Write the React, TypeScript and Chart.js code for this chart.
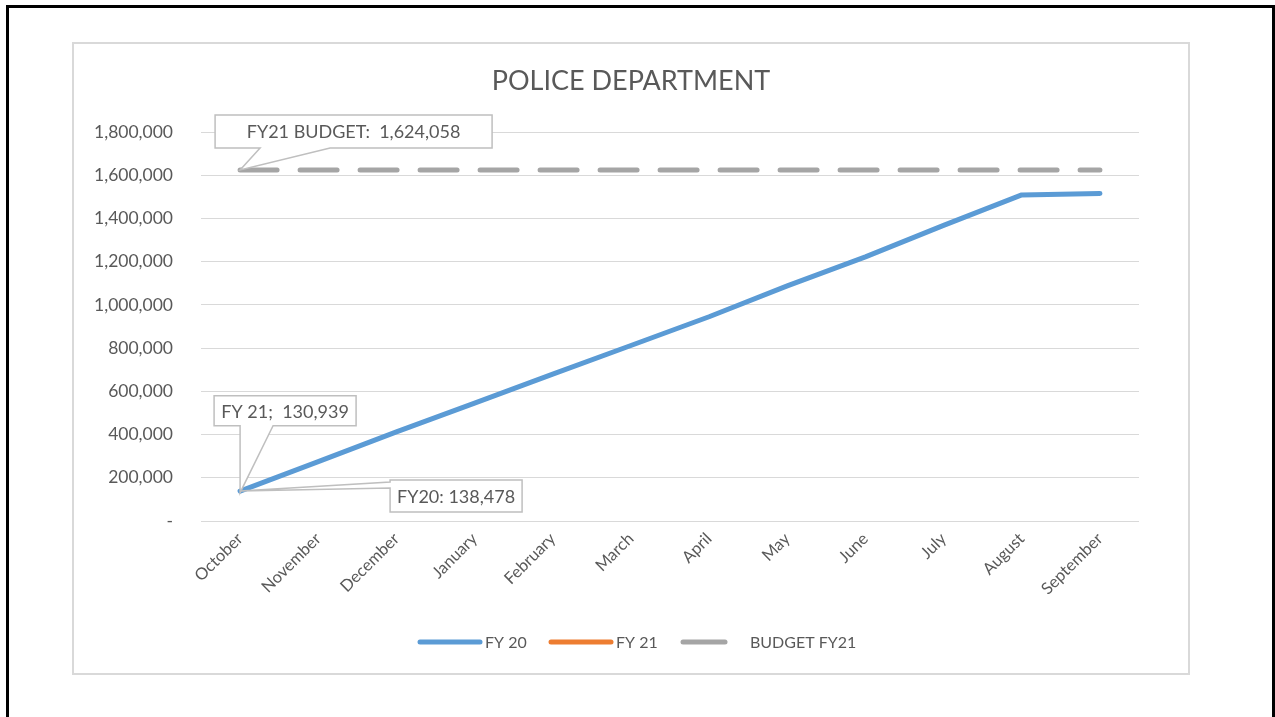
import React, { useEffect, useRef } from "react";
import { Chart, registerables } from "chart.js";

Chart.register(...registerables);

const months = ["October","November","December","January","February","March","April","May","June","July","August","September"];
const fy20 = [138478, 275000, 412000, 545000, 680000, 812000, 945000, 1088000, 1222000, 1368000, 1509000, 1516000];
const fy21: (number | null)[] = [130939, null, null, null, null, null, null, null, null, null, null, null];
const budgetFy21 = [1624058,1624058,1624058,1624058,1624058,1624058,1624058,1624058,1624058,1624058,1624058,1624058];
const yTicks = { min: 0, max: 1800000, step: 200000 };
const seriesNames = ["FY 20", "FY 21", "BUDGET FY21"];
const titleText = "POLICE DEPARTMENT";

const FONT = "Lato, 'Open Sans', sans-serif";
const TXT = "#595959";
const fmt = (v: number) => v.toLocaleString("en-US");

const decorPlugin = {
  id: "decor",
  afterDraw(chart: any) {
    const ctx = chart.ctx as CanvasRenderingContext2D;
    const xs = chart.scales.x, ys = chart.scales.y;
    const cx = chart.width / 2;
    ctx.save();
    // title
    ctx.fillStyle = TXT;
    ctx.font = `27px ${FONT}`;
    ctx.textAlign = "center";
    ctx.textBaseline = "middle";
    ctx.fillText(titleText, cx, 37);

    // legend
    const ly = 598;
    const items = [
      { c: "#5b9bd5", x0: -211, x1: -151, tx: -146, t: seriesNames[0] },
      { c: "#ed7d31", x0: -80, x1: -20, tx: -15, t: seriesNames[1] },
      { c: "#a5a5a5", x0: 52, x1: 94, tx: 119, t: seriesNames[2] },
    ];
    ctx.font = `16px ${FONT}`;
    ctx.textAlign = "left";
    for (const it of items) {
      ctx.strokeStyle = it.c;
      ctx.lineWidth = 5;
      ctx.lineCap = "round";
      ctx.beginPath();
      ctx.moveTo(cx + it.x0, ly);
      ctx.lineTo(cx + it.x1, ly);
      ctx.stroke();
      ctx.fillStyle = TXT;
      ctx.fillText(it.t, cx + it.tx, ly + 1);
    }

    // callouts
    const callout = (px: number, py: number, l: number, t: number, r: number, b: number, poly: number[][], text: string) => {
      ctx.beginPath();
      ctx.moveTo(px + poly[0][0], py + poly[0][1]);
      for (let i = 1; i < poly.length; i++) ctx.lineTo(px + poly[i][0], py + poly[i][1]);
      ctx.closePath();
      ctx.fillStyle = "#ffffff";
      ctx.fill();
      ctx.strokeStyle = "#bfbfbf";
      ctx.lineWidth = 1.5;
      ctx.lineCap = "butt";
      ctx.stroke();
      ctx.fillStyle = TXT;
      ctx.font = `18px ${FONT}`;
      ctx.textAlign = "center";
      ctx.textBaseline = "middle";
      ctx.fillText(text, px + (l + r) / 2, py + (t + b) / 2 + 1);
    };

    const x0 = xs.getPixelForValue(0);
    // budget
    {
      const py = ys.getPixelForValue(budgetFy21[0]);
      const l = -25, t = -55, r = 252, b = -22;
      callout(x0, py, l, t, r, b, [[l, t], [r, t], [r, b], [90, b], [0, 0], [20, b], [l, b]], "FY21 BUDGET:  " + fmt(budgetFy21[0]));
    }
    // FY21
    {
      const py = ys.getPixelForValue(fy21[0] as number);
      const l = -26, t = -97, r = 116, b = -67;
      callout(x0, py, l, t, r, b, [[l, t], [r, t], [r, b], [33, b], [0, 0], [0, b], [l, b]], "FY 21;  " + fmt(fy21[0] as number));
    }
    // FY20
    {
      const py = ys.getPixelForValue(fy20[0]);
      const l = 150, t = -11, r = 282, b = 21;
      callout(x0, py, l, t, r, b, [[l, t], [r, t], [r, b], [l, b], [l, -3], [0, 0], [l, -9]], "FY20: " + fmt(fy20[0]));
    }
    ctx.restore();
  },
};

export default function App() {
  const ref = useRef<HTMLCanvasElement>(null);
  useEffect(() => {
    if (!ref.current) return;
    const chart = new Chart(ref.current, {
      type: "line",
      data: {
        labels: months,
        datasets: [
          { label: seriesNames[0], data: fy20, borderColor: "#5b9bd5", backgroundColor: "#5b9bd5", borderWidth: 5, pointRadius: 0, tension: 0, borderCapStyle: "round", borderJoinStyle: "round" },
          { label: seriesNames[1], data: fy21, borderColor: "#ed7d31", backgroundColor: "#ed7d31", borderWidth: 5, pointRadius: 0 },
          { label: seriesNames[2], data: budgetFy21, borderColor: "#a5a5a5", backgroundColor: "#a5a5a5", borderWidth: 5, pointRadius: 0, borderDash: [37, 23], borderCapStyle: "round" },
        ],
      },
      options: {
        animation: false,
        responsive: false,
        layout: { padding: { top: 88, right: 49, left: 0, bottom: 0 } },
        plugins: { legend: { display: false }, tooltip: { enabled: false }, title: { display: false } },
        scales: {
          x: {
            offset: true,
            grid: { display: false, drawTicks: false },
            border: { display: false },
            ticks: { color: TXT, font: { family: FONT, size: 16.5 }, minRotation: 45, maxRotation: 45, padding: 8 },
            afterFit: (s: any) => { s.height = 152; },
          },
          y: {
            min: yTicks.min,
            max: yTicks.max,
            grid: { color: "#d9d9d9", lineWidth: 1, drawTicks: false },
            border: { display: false },
            ticks: {
              stepSize: yTicks.step,
              color: TXT,
              font: { family: FONT, size: 17.5 },
              padding: 28,
              callback: (v: any) => (Number(v) === 0 ? "-" : fmt(Number(v))),
            },
            afterFit: (s: any) => { s.width = 127; },
          },
        },
      },
      plugins: [decorPlugin],
    } as any);
    return () => chart.destroy();
  }, []);

  return (
    <div style={{ position: "fixed", left: 0, top: 0, width: 1275, height: 717, background: "#fff", overflow: "hidden" }}>
      <div style={{ position: "absolute", left: 6, top: 5, width: 1269, height: 800, border: "3px solid #000", boxSizing: "border-box" }} />
      <div style={{ position: "absolute", left: 72, top: 42, width: 1118, height: 633, border: "2px solid #d9d9d9", boxSizing: "border-box", background: "#fff" }}>
        <canvas ref={ref} width={1114} height={629} style={{ display: "block", width: 1114, height: 629 }} />
      </div>
    </div>
  );
}
